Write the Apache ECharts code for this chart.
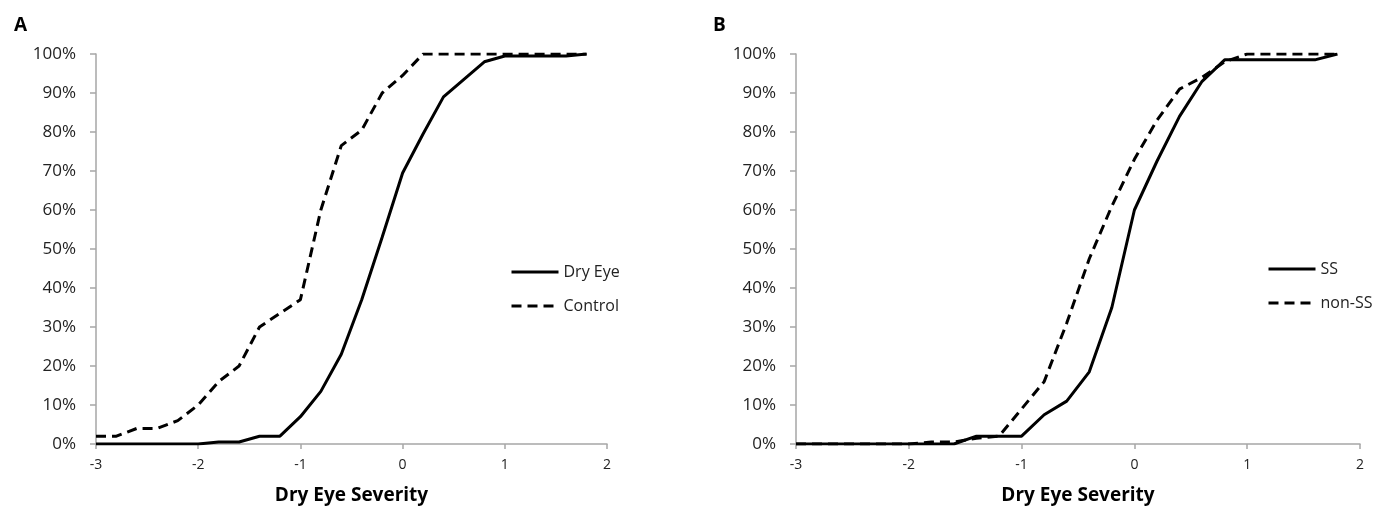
<!DOCTYPE html>
<html>
<head>
<meta charset="utf-8">
<script src="https://cdn.jsdelivr.net/npm/echarts@6/dist/echarts.min.js"></script>
<style>
  html, body { margin: 0; padding: 0; background: #fff; }
  #chart { width: 1376px; height: 510px; }
</style>
</head>
<body>
<div id="chart"></div>
<script>
// severity steps shared by all four curves
const severity = [-3, -2.8, -2.6, -2.4, -2.2, -2, -1.8, -1.6, -1.4, -1.2, -1, -0.8, -0.6, -0.4, -0.2, 0, 0.2, 0.4, 0.6, 0.8, 1, 1.2, 1.4, 1.6, 1.8];

// panel A (cumulative %)
const dryEye  = [0, 0, 0, 0, 0, 0, 0.5, 0.5, 2, 2, 7, 13.5, 23, 37, 53, 69.5, 79.5, 89, 93.5, 98, 99.5, 99.5, 99.5, 99.5, 100];
const control = [2, 2, 4, 4, 6, 10, 16, 20, 30, 33.5, 37, 60, 76.5, 80.5, 90, 94.5, 100, 100, 100, 100, 100, 100, 100, 100, 100];

// panel B (cumulative %)
const ss    = [0, 0, 0, 0, 0, 0, 0, 0, 2, 2, 2, 7.5, 11, 18.5, 35, 60, 72.5, 84, 93, 98.5, 98.5, 98.5, 98.5, 98.5, 100];
const nonSS = [0, 0, 0, 0, 0, 0, 0.5, 0.5, 1.5, 2, 9, 16, 31, 47.5, 61, 73, 83, 91, 94, 98, 100, 100, 100, 100, 100];

const xTicks = [-3, -2, -1, 0, 1, 2];
const yTicks = [0, 10, 20, 30, 40, 50, 60, 70, 80, 90, 100];

function pairs(ys) {
  return severity.map((x, i) => [x, ys[i]]);
}

const FONT = '"Open Sans", "DejaVu Sans", sans-serif';
const AXIS_GRAY = '#a6a6a6';

function xAxisFor(idx) {
  return {
    type: 'value',
    gridIndex: idx,
    min: xTicks[0],
    max: xTicks[xTicks.length - 1],
    interval: 1,
    name: 'Dry Eye Severity',
    nameLocation: 'middle',
    nameGap: 42,
    nameTextStyle: { color: '#000', fontFamily: FONT, fontWeight: 'bold', fontSize: 19 },
    axisLine: { onZero: false, lineStyle: { color: AXIS_GRAY, width: 1.5 } },
    axisTick: { length: 5, lineStyle: { color: AXIS_GRAY, width: 1.5 } },
    axisLabel: { color: '#222', fontFamily: FONT, fontSize: 14, margin: 14 },
    splitLine: { show: false }
  };
}

function yAxisFor(idx) {
  return {
    type: 'value',
    gridIndex: idx,
    min: yTicks[0],
    max: yTicks[yTicks.length - 1],
    interval: 10,
    axisLine: { show: true, onZero: false, lineStyle: { color: AXIS_GRAY, width: 1.5 } },
    axisTick: { show: true, length: 6, lineStyle: { color: AXIS_GRAY, width: 1.5 } },
    axisLabel: { color: '#222', fontFamily: FONT, fontSize: 17, margin: 20, formatter: '{value}%' },
    splitLine: { show: false }
  };
}

function lineSeries(name, ys, idx, dashed) {
  return {
    name: name,
    type: 'line',
    xAxisIndex: idx,
    yAxisIndex: idx,
    data: pairs(ys),
    symbol: 'none',
    lineStyle: { color: '#000', width: 3, type: dashed ? [10, 6] : 'solid' },
    itemStyle: { color: '#000' }
  };
}

function legendFor(names, left, top) {
  return {
    data: names,
    orient: 'vertical',
    left: left, top: top,
    itemWidth: 47, itemHeight: 14, itemGap: 18,
    itemStyle: { opacity: 0 },
    lineStyle: { width: 3 },
    textStyle: { fontFamily: FONT, fontSize: 16, color: '#222' }
  };
}

let chart = echarts.init(document.getElementById('chart'));
let option = {
  animation: false,
  backgroundColor: '#fff',
  title: [
    { text: 'A', left: 9, top: 11, textStyle: { fontFamily: FONT, fontWeight: 'bold', fontSize: 19, color: '#000' } },
    { text: 'B', left: 708, top: 11, textStyle: { fontFamily: FONT, fontWeight: 'bold', fontSize: 19, color: '#000' } }
  ],
  grid: [
    { left: 96, top: 54, width: 511, height: 391 },
    { left: 796, top: 54, width: 564, height: 391 }
  ],
  legend: [
    legendFor(['Dry Eye', 'Control'], 505, 259),
    legendFor(['SS', 'non-SS'], 1262, 256)
  ],
  xAxis: [xAxisFor(0), xAxisFor(1)],
  yAxis: [yAxisFor(0), yAxisFor(1)],
  series: [
    lineSeries('Dry Eye', dryEye, 0, false),
    lineSeries('Control', control, 0, true),
    lineSeries('SS', ss, 1, false),
    lineSeries('non-SS', nonSS, 1, true)
  ]
};
chart.setOption(option);
</script>
</body>
</html>
